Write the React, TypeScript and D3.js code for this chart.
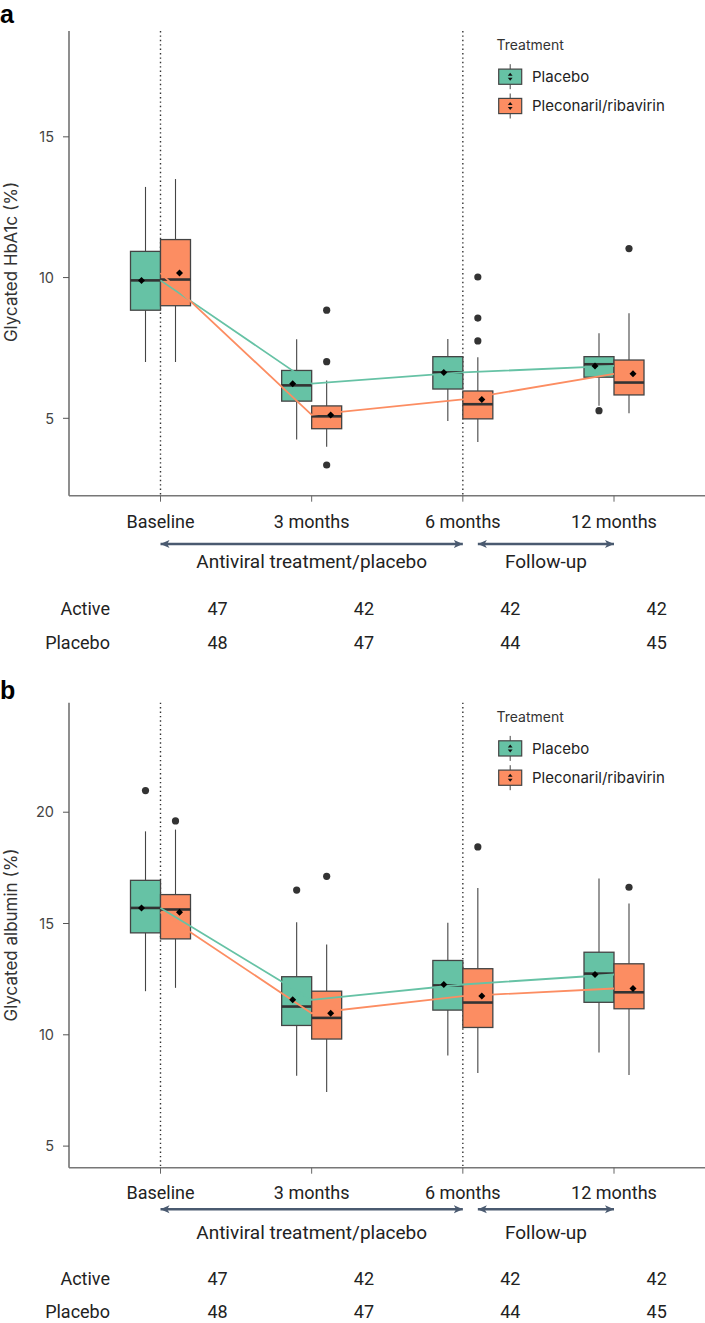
import React from 'react';
import * as d3 from 'd3';

const W = 705;
const H = 1323;

const timepoints = ['Baseline', '3 months', '6 months', '12 months'];
const groups = ['Placebo', 'Pleconaril/ribavirin'];
const groupColors = ['#66C2A5', '#FC8D62'];
const phases = ['Antiviral treatment/placebo', 'Follow-up'];
const rowLabels = ['Active', 'Placebo'];
const nActive = [47, 42, 42, 42];
const nPlacebo = [48, 47, 44, 45];

// [lower whisker, Q1, median, Q3, upper whisker]
const hba1cPlaceboBoxes = [
  [7.0, 8.84, 9.9, 10.93, 13.22],
  [4.25, 5.61, 6.17, 6.7, 7.81],
  [4.9, 6.04, 6.63, 7.19, 7.82],
  [5.45, 6.46, 6.92, 7.19, 8.02],
];
const hba1cPlaceboMeans = [9.9, 6.23, 6.63, 6.86];
const hba1cPlaceboOutliers = [[], [], [], [5.27]];
const hba1cActiveBoxes = [
  [7.0, 9.0, 9.93, 11.35, 13.5],
  [3.99, 4.63, 5.07, 5.44, 6.34],
  [4.16, 4.98, 5.5, 5.97, 7.17],
  [5.18, 5.83, 6.27, 7.07, 8.73],
];
const hba1cActiveMeans = [10.16, 5.12, 5.67, 6.58];
const hba1cActiveOutliers = [[], [7.01, 8.84, 3.34], [7.75, 8.56, 10.02], [11.03]];
const hba1cTicks = [5, 10, 15];

const albuminPlaceboBoxes = [
  [11.96, 14.58, 15.7, 16.94, 19.14],
  [8.16, 10.42, 11.27, 12.61, 15.06],
  [9.07, 11.11, 12.22, 13.34, 15.03],
  [9.21, 11.46, 12.75, 13.71, 17.02],
];
const albuminPlaceboMeans = [15.7, 11.57, 12.26, 12.71];
const albuminPlaceboOutliers = [[20.97], [16.5], [], []];
const albuminActiveBoxes = [
  [12.11, 14.31, 15.63, 16.3, 19.22],
  [7.43, 9.81, 10.76, 11.96, 14.06],
  [8.28, 10.33, 11.45, 12.97, 16.6],
  [8.2, 11.17, 11.91, 13.19, 15.9],
];
const albuminActiveMeans = [15.51, 10.97, 11.74, 12.08];
const albuminActiveOutliers = [[19.61], [17.12], [18.44], [16.63]];
const albuminTicks = [5, 10, 15, 20];

const SANS = 'Inter, "Noto Sans", sans-serif';
const LAB = 'Roboto, "Liberation Sans", sans-serif';

type PanelProps = {
  letter: string;
  letterY: number;
  top: number;
  bottom: number;
  domain: [number, number];
  ticks: number[];
  title: string;
  titleY: number;
  legendY: number;
  labelY: number;
  arrowY: number;
  phaseY: number;
  activeY: number;
  placeboY: number;
  boxes: number[][][];
  means: number[][];
  outliers: number[][][];
};

const x = d3.scalePoint<string>().domain(timepoints).range([160.5, 614]);
const xn = d3.scalePoint<string>().domain(timepoints).range([217.6, 656.7]);
const dodge = [-15, 15];
const meanShift = [-4, 4];
const BW = 30;
const AXL = 69;

function Panel(p: PanelProps) {
  const y = d3.scaleLinear().domain(p.domain).range([p.bottom, p.top]);
  const line = d3
    .line<number>()
    .x((_, i) => x(timepoints[i]) as number)
    .y((d) => y(d));
  const diamond = (cx: number, cy: number, r: number) =>
    `M${cx},${cy - r}L${cx + r},${cy}L${cx},${cy + r}L${cx - r},${cy}Z`;

  return (
    <g>
      <text x={0} y={p.letterY} fontFamily="Arial, 'Liberation Sans', sans-serif" fontWeight="bold" fontSize={25} fill="#000">
        {p.letter}
      </text>
      {/* axes */}
      <line x1={AXL} x2={AXL} y1={p.top} y2={p.bottom} stroke="#444" strokeWidth={1.2} />
      <line x1={AXL} x2={W} y1={p.bottom} y2={p.bottom} stroke="#777" strokeWidth={1.4} />
      {p.ticks.map((t) => (
        <g key={t}>
          <line x1={AXL - 6} x2={AXL} y1={y(t)} y2={y(t)} stroke="#555" strokeWidth={1} />
          <text x={AXL - 15} y={y(t)} dy="0.36em" textAnchor="end" fontFamily={SANS} fontSize={14.5} fill="#444">
            {t}
          </text>
        </g>
      ))}
      {timepoints.map((t) => (
        <g key={t}>
          <line x1={x(t)} x2={x(t)} y1={p.bottom} y2={p.bottom + 6} stroke="#666" strokeWidth={1} />
          <text x={x(t)} y={p.labelY} dy="0.35em" textAnchor="middle" fontFamily={LAB} fontSize={18} fill="#222">
            {t}
          </text>
        </g>
      ))}
      <text
        transform={`translate(17,${p.titleY}) rotate(-90)`}
        textAnchor="middle"
        fontFamily={SANS}
        fontSize={17}
        fill="#333"
      >
        {p.title}
      </text>
      {/* dotted reference lines */}
      {[timepoints[0], timepoints[2]].map((t) => (
        <line
          key={t}
          x1={x(t)}
          x2={x(t)}
          y1={p.top}
          y2={p.bottom}
          stroke="#333"
          strokeWidth={1.4}
          strokeDasharray="1.4 3"
        />
      ))}
      {/* boxes */}
      {groups.map((g, gi) =>
        timepoints.map((t, ti) => {
          const cx = (x(t) as number) + dodge[gi];
          const [lo, q1, med, q3, hi] = p.boxes[gi][ti];
          return (
            <g key={g + t}>
              <line x1={cx} x2={cx} y1={y(hi)} y2={y(q3)} stroke="#444" strokeWidth={1.1} />
              <line x1={cx} x2={cx} y1={y(q1)} y2={y(lo)} stroke="#444" strokeWidth={1.1} />
              <rect
                x={cx - BW / 2}
                y={y(q3)}
                width={BW}
                height={y(q1) - y(q3)}
                fill={groupColors[gi]}
                stroke="#444"
                strokeWidth={1.3}
              />
              <line x1={cx - BW / 2} x2={cx + BW / 2} y1={y(med)} y2={y(med)} stroke="#333" strokeWidth={2.6} />
              {p.outliers[gi][ti].map((o, oi) => (
                <circle key={oi} cx={cx} cy={y(o)} r={3.6} fill="#333" />
              ))}
            </g>
          );
        })
      )}
      {/* mean lines */}
      {groups.map((g, gi) => (
        <path key={g} d={line(p.means[gi]) || ''} fill="none" stroke={groupColors[gi]} strokeWidth={1.8} />
      ))}
      {/* mean markers */}
      {groups.map((g, gi) =>
        timepoints.map((t, ti) => (
          <path
            key={g + t + 'm'}
            d={diamond((x(t) as number) + dodge[gi] + meanShift[gi], y(p.means[gi][ti]), 3.5)}
            fill="#000"
          />
        ))
      )}
      {/* legend */}
      <text x={496.5} y={p.legendY} dy="0.35em" fontFamily={SANS} fontSize={14} fill="#333">
        Treatment
      </text>
      {groups.map((g, gi) => {
        const ky = p.legendY + 31.7 + gi * 29.3;
        return (
          <g key={g}>
            <line x1={510.2} x2={510.2} y1={ky - 12.5} y2={ky + 12.5} stroke="#444" strokeWidth={1} />
            <rect x={498.7} y={ky - 7.6} width={23} height={15.2} fill={groupColors[gi]} stroke="#444" strokeWidth={1.2} />
            <path d={`M${507.8},${ky - 1}L${510.2},${ky - 4}L${512.6},${ky - 1}Z`} fill="#111" />
            <path d={`M${507.8},${ky + 1}L${510.2},${ky + 4}L${512.6},${ky + 1}Z`} fill="#111" />
            <text x={532} y={ky} dy="0.35em" fontFamily={SANS} fontSize={15} fill="#222">
              {g}
            </text>
          </g>
        );
      })}
      {/* phase arrows */}
      <line
        x1={x(timepoints[0])}
        x2={x(timepoints[2])}
        y1={p.arrowY}
        y2={p.arrowY}
        stroke="#4A5A70"
        strokeWidth={2.4}
        markerStart="url(#arr)"
        markerEnd="url(#arr)"
      />
      <line
        x1={(x(timepoints[2]) as number) + 15}
        x2={x(timepoints[3])}
        y1={p.arrowY}
        y2={p.arrowY}
        stroke="#4A5A70"
        strokeWidth={2.4}
        markerStart="url(#arr)"
        markerEnd="url(#arr)"
      />
      <text x={x(timepoints[1])} y={p.phaseY} dy="0.35em" textAnchor="middle" fontFamily={LAB} fontSize={19} fill="#222">
        {phases[0]}
      </text>
      <text
        x={((x(timepoints[2]) as number) + 15 + (x(timepoints[3]) as number)) / 2}
        y={p.phaseY}
        dy="0.35em"
        textAnchor="middle"
        fontFamily={LAB}
        fontSize={19}
        fill="#222"
      >
        {phases[1]}
      </text>
      {/* n table */}
      {[nActive, nPlacebo].map((row, ri) => {
        const ry = ri === 0 ? p.activeY : p.placeboY;
        return (
          <g key={ri}>
            <text x={110} y={ry} dy="0.35em" textAnchor="end" fontFamily={LAB} fontSize={18} fill="#222">
              {rowLabels[ri]}
            </text>
            {row.map((n, ni) => (
              <text key={ni} x={xn(timepoints[ni])} y={ry} dy="0.35em" textAnchor="middle" fontFamily={LAB} fontSize={18} fill="#222">
                {n}
              </text>
            ))}
          </g>
        );
      })}
    </g>
  );
}

export default function App() {
  return (
    <svg
      width={W}
      height={H}
      viewBox={`0 0 ${W} ${H}`}
      style={{ position: 'absolute', left: 0, top: 0, background: '#fff', display: 'block' }}
    >
      <defs>
        <marker
          id="arr"
          viewBox="0 0 10 10"
          refX={10}
          refY={5}
          markerWidth={9}
          markerHeight={9}
          markerUnits="userSpaceOnUse"
          orient="auto-start-reverse"
        >
          <path d="M0,0.5L10,5L0,9.5L2.5,5Z" fill="#4A5A70" />
        </marker>
      </defs>
      <rect x={0} y={0} width={W} height={H} fill="#fff" />
      <Panel
        letter="a"
        letterY={22.7}
        top={31}
        bottom={495.7}
        domain={[2.25, 18.76]}
        ticks={hba1cTicks}
        title="Glycated HbA1c (%)"
        titleY={262}
        legendY={45}
        labelY={521.7}
        arrowY={544}
        phaseY={561.7}
        activeY={608.7}
        placeboY={642.7}
        boxes={[hba1cPlaceboBoxes, hba1cActiveBoxes]}
        means={[hba1cPlaceboMeans, hba1cActiveMeans]}
        outliers={[hba1cPlaceboOutliers, hba1cActiveOutliers]}
      />
      <Panel
        letter="b"
        letterY={699.3}
        top={702.7}
        bottom={1167.7}
        domain={[4.03, 24.92]}
        ticks={albuminTicks}
        title="Glycated albumin (%)"
        titleY={935}
        legendY={716.7}
        labelY={1193}
        arrowY={1209.3}
        phaseY={1232.2}
        activeY={1278.3}
        placeboY={1311.7}
        boxes={[albuminPlaceboBoxes, albuminActiveBoxes]}
        means={[albuminPlaceboMeans, albuminActiveMeans]}
        outliers={[albuminPlaceboOutliers, albuminActiveOutliers]}
      />
    </svg>
  );
}
